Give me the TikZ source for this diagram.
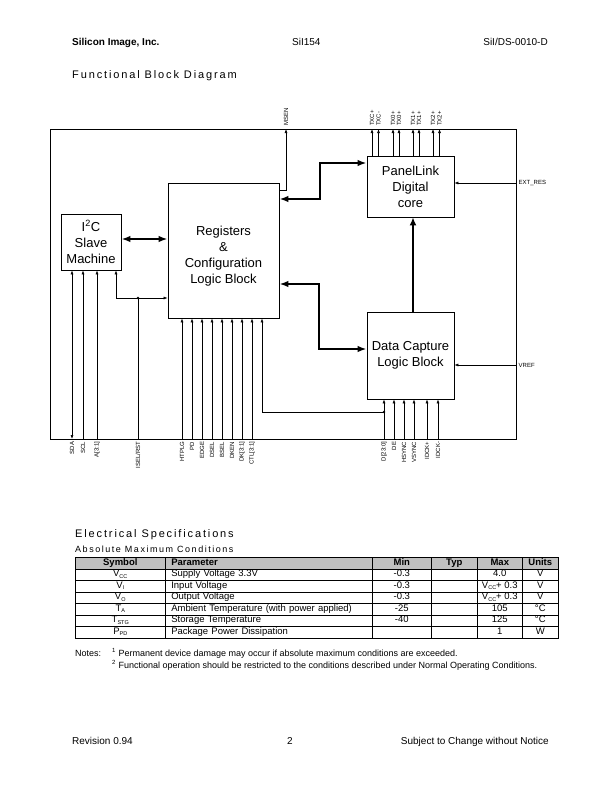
\documentclass[tikz,border=0pt]{standalone}
\usepackage{fontspec}
\setmainfont{Liberation Sans}
\newfontfamily\widefont[LetterSpace=17]{Liberation Sans}
\usetikzlibrary{arrows.meta,matrix}
\definecolor{headgray}{RGB}{192,192,192}
\newcommand\pinfont{\fontsize{6}{6.5}\selectfont}
\newcommand\tblfont{\fontsize{9.5}{11}\selectfont}
\newcommand\lowsub[1]{\raisebox{-1.3pt}{\fontsize{5.5}{6}\selectfont #1}}
\tikzset{
  txt/.style={inner sep=0pt},
  blk/.style={draw, line width=0.8pt, inner sep=0pt, align=center, font=\fontsize{13}{16}\selectfont},
  wire/.style={line width=0.6pt, >={Latex[length=4pt,width=3pt]}},
  bus/.style={line width=1.7pt, >={Latex[length=9pt,width=6.5pt]}},
  vbus/.style={line width=2.7pt, >={Latex[length=8pt,width=7pt]}},
  toppin/.style={rotate=90, anchor=west, inner sep=3pt, font=\pinfont},
  botpin/.style={rotate=90, anchor=east, inner sep=2.5pt, font=\pinfont},
  rpin/.style={anchor=west, inner sep=2.5pt, font=\fontsize{6}{7}\selectfont}
}
\begin{document}
\begin{tikzpicture}[x=1pt,y=-1pt]
\useasboundingbox (0,0) rectangle (612,792);
\node[txt, anchor=base west, font=\bfseries] (company) at (72,46) {Silicon Image, Inc.};
\node[txt, anchor=base west] (part) at (292,46) {SiI154};
\node[txt, anchor=base east] (docno) at (548,46) {SiI/DS-0010-D};
\node[txt, anchor=base west, font=\widefont\fontsize{11}{13}\selectfont] (fbd) at (72,78) {Functional Block Diagram};

\node[draw, line width=0.8pt, minimum width=466pt, minimum height=310pt] (chip) at (283,284) {};
\node[blk, minimum width=60pt, minimum height=56pt] (i2c) at (91,242) {I\textsuperscript{2}C\\Slave\\Machine};
\node[blk, minimum width=111pt, minimum height=135pt] (reg) at (223.5,250.5) {};
\node[txt, align=center, font=\fontsize{13}{16}\selectfont] (regtxt) at (223.5,256.5) {Registers\\\&\\Configuration\\Logic Block};
\node[blk, minimum width=87pt, minimum height=61pt] (core) at (410.5,186.5) {PanelLink\\Digital\\core};
\node[blk, minimum width=87pt, minimum height=87pt] (cap) at (410.5,355.5) {Data Capture\\Logic Block};

\draw[bus,<->] (i2c.east |- 0,239) -- (reg.west |- 0,239);
\draw[bus,<->] (core.west |- 0,163) -- (320,163) -- (320,199) -- (reg.east |- 0,199);
\draw[bus,<->] (reg.east |- 0,284) -- (319,284) -- (319,349) -- (cap.west |- 0,349);
\draw[vbus,->] (cap.north -| 413,0) -- (core.south -| 413,0);

\node[toppin] (msen) at (286,129) {MSEN};
\draw[wire,->] (reg.east |- 0,190) -| (msen.west);
\node[toppin] (txcp) at (372,129) {TXC+};
\node[toppin] (txcn) at (378.5,129) {TXC-};
\node[toppin] (tx0p) at (393,129) {TX0+};
\node[toppin] (tx0n) at (399,129) {TX0+};
\node[toppin] (tx1p) at (413,129) {TX1+};
\node[toppin] (tx1n) at (419,129) {TX1+};
\node[toppin] (tx2p) at (433,129) {TX2+};
\node[toppin] (tx2n) at (439.5,129) {TX2+};
\draw[wire,->] (core.north -| txcp.west) -- (txcp.west);
\draw[wire,->] (core.north -| txcn.west) -- (txcn.west);
\draw[wire,->] (core.north -| tx0p.west) -- (tx0p.west);
\draw[wire,->] (core.north -| tx0n.west) -- (tx0n.west);
\draw[wire,->] (core.north -| tx1p.west) -- (tx1p.west);
\draw[wire,->] (core.north -| tx1n.west) -- (tx1n.west);
\draw[wire,->] (core.north -| tx2p.west) -- (tx2p.west);
\draw[wire,->] (core.north -| tx2n.west) -- (tx2n.west);

\node[rpin] (extres) at (516,183) {EXT\_RES};
\draw[wire,->] (extres.west) -- (core.east |- extres.west);
\node[rpin] (vref) at (516,365) {VREF};
\draw[wire,->] (vref.west) -- (cap.east |- vref.west);

\node[botpin] (sda) at (72,439) {SDA};
\node[botpin] (scl) at (83,439) {SCL};
\node[botpin] (addr) at (97,439) {A[3:1]};
\node[botpin] (iselrst) at (138,439) {ISEL/RST};
\draw[wire,<->] (sda.east) -- (i2c.south -| sda.east);
\draw[wire,->] (scl.east) -- (i2c.south -| scl.east);
\draw[wire,->] (addr.east) -- (i2c.south -| addr.east);
\coordinate (isel) at (138,298);
\draw[wire] (iselrst.east) -- (isel);
\draw[wire,->] (isel) -| (i2c.south -| 116,0);
\draw[wire,->] (isel) -- (reg.west |- isel);
\fill (isel) circle (1.4);

\node[botpin] (htplg) at (182,439) {HTPLG};
\node[botpin] (pd) at (192,439) {PD};
\node[botpin] (edge) at (202,439) {EDGE};
\node[botpin] (dsel) at (212,439) {DSEL};
\node[botpin] (bsel) at (222,439) {BSEL};
\node[botpin] (dken) at (232,439) {DKEN};
\node[botpin] (dk) at (242,439) {DK[3:1]};
\node[botpin] (ctl) at (252,439) {CTL[3:1]};
\draw[wire,->] (htplg.east) -- (reg.south -| htplg.east);
\draw[wire,->] (pd.east) -- (reg.south -| pd.east);
\draw[wire,->] (edge.east) -- (reg.south -| edge.east);
\draw[wire,->] (dsel.east) -- (reg.south -| dsel.east);
\draw[wire,->] (bsel.east) -- (reg.south -| bsel.east);
\draw[wire,->] (dken.east) -- (reg.south -| dken.east);
\draw[wire,->] (dk.east) -- (reg.south -| dk.east);
\draw[wire,->] (ctl.east) -- (reg.south -| ctl.east);

\node[botpin] (dbus) at (384,439) {D[23:0]};
\node[botpin] (de) at (394,439) {DE};
\node[botpin] (hsync) at (404,439) {HSYNC};
\node[botpin] (vsync) at (414,439) {VSYNC};
\node[botpin] (idckp) at (427,439) {IDCK+};
\node[botpin] (idckn) at (438,439) {IDCK-};
\draw[wire,->] (dbus.east) -- (cap.south -| dbus.east);
\draw[wire,->] (de.east) -- (cap.south -| de.east);
\draw[wire,->] (hsync.east) -- (cap.south -| hsync.east);
\draw[wire,->] (vsync.east) -- (cap.south -| vsync.east);
\draw[wire,->] (idckp.east) -- (cap.south -| idckp.east);
\draw[wire,->] (idckn.east) -- (cap.south -| idckn.east);
\coordinate (dtap) at (384,412);
\draw[wire,->] (dtap) -| (reg.south -| 262,0);
\fill (dtap) circle (1.4);

\node[txt, anchor=base west, font=\widefont\fontsize{11}{13}\selectfont] (elec) at (75,537) {Electrical Specifications};
\node[txt, anchor=base west, font=\widefont\fontsize{9}{11}\selectfont] (absmax) at (75,552) {Absolute Maximum Conditions};
\matrix (spec) [matrix of nodes, nodes in empty cells, anchor=north west,
  inner sep=0pt, outer sep=0pt, column sep=-0.6pt, row sep=-0.6pt,
  nodes={draw, line width=0.6pt, anchor=center, inner xsep=0pt, inner ysep=1pt,
    text height=7pt, text depth=2.5pt, font=\tblfont},
  row 1/.style={nodes={fill=headgray, font=\tblfont\bfseries}},
  column 1/.style={nodes={minimum width=90pt}},
  column 2/.style={nodes={text width=195pt, inner xsep=6pt, align=left}},
  column 3/.style={nodes={minimum width=59pt}},
  column 4/.style={nodes={minimum width=46pt}},
  column 5/.style={nodes={minimum width=45pt}},
  column 6/.style={nodes={minimum width=36pt}}] at (75,557) {
  Symbol & Parameter & Min & Typ & Max & Units \\
  V\lowsub{CC} & Supply Voltage 3.3V & -0.3 & & 4.0 & V \\
  V\lowsub{I} & Input Voltage & -0.3 & & V\lowsub{CC}+ 0.3 & V \\
  V\lowsub{O} & Output Voltage & -0.3 & & V\lowsub{CC}+ 0.3 & V \\
  T\lowsub{A} & Ambient Temperature (with power applied) & -25 & & 105 & °C \\
  T\lowsub{STG} & Storage Temperature & -40 & & 125 & °C \\
  P\lowsub{PD} & Package Power Dissipation & & & 1 & W \\
};
\node[txt, anchor=base west, font=\fontsize{9}{11}\selectfont] (notes) at (75,656) {Notes:};
\node[txt, anchor=base west, font=\fontsize{9}{11}\selectfont] (note1) at (112,656) {\textsuperscript{1} Permanent device damage may occur if absolute maximum conditions are exceeded.};
\node[txt, anchor=base west, font=\fontsize{9}{11}\selectfont] (note2) at (112,668) {\textsuperscript{2} Functional operation should be restricted to the conditions described under Normal Operating Conditions.};

\node[txt, anchor=base west] (rev) at (72,744) {Revision 0.94};
\node[txt, anchor=base] (page) at (290,744) {2};
\node[txt, anchor=base east] (notice) at (549,744) {Subject to Change without Notice};
\end{tikzpicture}
\end{document}
